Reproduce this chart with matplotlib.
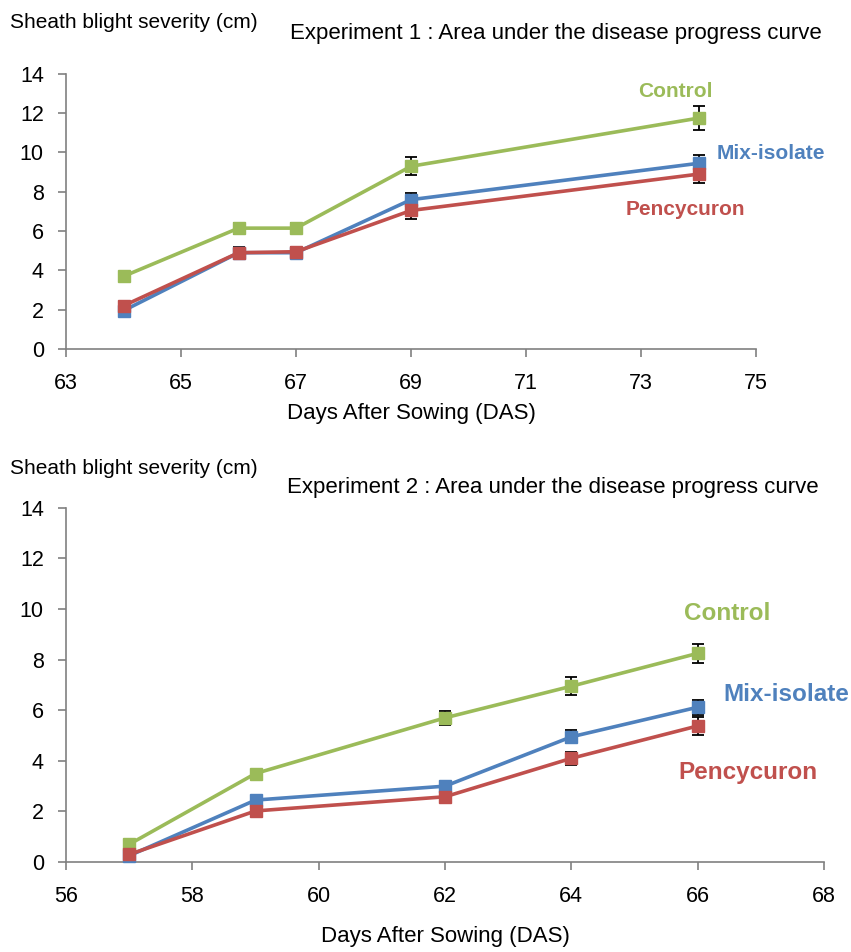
import numpy as np
import matplotlib.pyplot as plt

plt.rcParams['font.family'] = ['Liberation Sans', 'DejaVu Sans']

# Experiment 1
das1 = [64, 66, 67, 69, 74]
control1 = [3.7, 6.15, 6.15, 9.3, 11.75]
control1_err = [0.1, 0.28, 0.25, 0.45, 0.6]
mix1 = [1.95, 4.9, 4.9, 7.6, 9.45]
mix1_err = [0.1, 0.25, 0.25, 0.35, 0.4]
pen1 = [2.2, 4.9, 4.95, 7.05, 8.9]
pen1_err = [0.1, 0.3, 0.25, 0.45, 0.45]

# Experiment 2
das2 = [57, 59, 62, 64, 66]
control2 = [0.7, 3.5, 5.7, 6.95, 8.25]
control2_err = [0.1, 0.15, 0.27, 0.35, 0.38]
mix2 = [0.25, 2.45, 3.0, 4.95, 6.12]
mix2_err = [0.1, 0.15, 0.15, 0.25, 0.3]
pen2 = [0.3, 2.02, 2.58, 4.1, 5.38]
pen2_err = [0.05, 0.1, 0.1, 0.25, 0.35]

green = '#9BBB59'
blue = '#4F81BD'
red = '#C0504D'


def style_axes(ax, xpad):
    for s in ['top', 'right']:
        ax.spines[s].set_visible(False)
    for s in ['left', 'bottom']:
        ax.spines[s].set_color('#808080')
        ax.spines[s].set_linewidth(1.2)
    ax.tick_params(colors='#808080', labelcolor='black', labelsize=15.5,
                   length=6, width=1.2)
    ax.tick_params(axis='x', pad=xpad)
    ax.tick_params(axis='y', pad=10)


def draw(ax, x, series):
    for y, err, c in series:
        ax.errorbar(x, y, yerr=err, color=c, lw=2.6, marker='s', ms=8,
                    ecolor='black', elinewidth=1.3, capsize=4, capthick=1.3,
                    zorder=3, clip_on=False)


fig = plt.figure(figsize=(8.51, 9.52), dpi=100)

ax1 = fig.add_axes([0.0776, 0.6334, 0.811, 0.289])
draw(ax1, das1, [(mix1, mix1_err, blue), (control1, control1_err, green),
                 (pen1, pen1_err, red)])
ax1.set_xlim(63, 75)
ax1.set_ylim(0, 14)
ax1.set_xticks(range(63, 76, 2))
ax1.set_yticks(range(0, 15, 2))
style_axes(ax1, 11)
ax1.set_xlabel('Days After Sowing (DAS)', fontsize=16, labelpad=7)
ax1.text(73.6, 13.1, 'Control', color=green, fontsize=15, fontweight='bold',
         ha='center', va='center')
ax1.text(75.25, 9.93, 'Mix-isolate', color=blue, fontsize=15, fontweight='bold',
         ha='center', va='center', clip_on=False)
ax1.text(73.76, 7.08, 'Pencycuron', color=red, fontsize=15, fontweight='bold',
         ha='center', va='center')
fig.text(10 / 851, 1 - 22 / 952, 'Sheath blight severity (cm)', fontsize=15,
         va='center')
fig.text(556 / 851, 1 - 33 / 952,
         'Experiment 1 : Area under the disease progress curve', fontsize=16,
         ha='center', va='center')

ax2 = fig.add_axes([0.0776, 0.0945, 0.8907, 0.372])
draw(ax2, das2, [(mix2, mix2_err, blue), (control2, control2_err, green),
                 (pen2, pen2_err, red)])
ax2.set_xlim(56, 68)
ax2.set_ylim(0, 14)
ax2.set_xticks(range(56, 69, 2))
ax2.set_yticks(range(0, 15, 2))
style_axes(ax2, 11)
ax2.set_xlabel('Days After Sowing (DAS)', fontsize=16, labelpad=14)
ax2.text(66.47, 9.84, 'Control', color=green, fontsize=17.5, fontweight='bold',
         ha='center', va='center')
ax2.text(67.41, 6.64, 'Mix-isolate', color=blue, fontsize=17.5, fontweight='bold',
         ha='center', va='center', clip_on=False)
ax2.text(66.8, 3.52, 'Pencycuron', color=red, fontsize=17.5, fontweight='bold',
         ha='center', va='center')
fig.text(10 / 851, 1 - 469 / 952, 'Sheath blight severity (cm)', fontsize=15,
         va='center')
fig.text(553 / 851, 1 - 488 / 952,
         'Experiment 2 : Area under the disease progress curve', fontsize=16,
         ha='center', va='center')

fig.savefig('out.png', dpi=100)
